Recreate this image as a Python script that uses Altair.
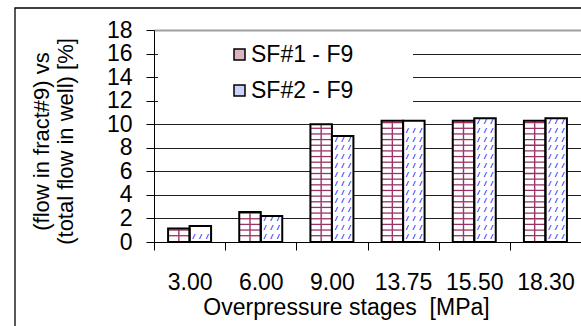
import altair as alt
import numpy as np
import pandas as pd

# ---- data ----
stages = ["3.00", "6.00", "9.00", "13.75", "15.50", "18.30"]
series = ["SF#1 - F9", "SF#2 - F9"]
sf1 = [1.15, 2.55, 10.0, 10.3, 10.3, 10.3]
sf2 = [1.35, 2.2, 9.0, 10.3, 10.5, 10.5]
y_ticks = [0, 2, 4, 6, 8, 10, 12, 14, 16, 18]
x_title = "Overpressure stages \u00a0[MPa]"
y_title = ["(flow in fract#9) vs", "(total flow in well) [%]"]

FONT = "Liberation Sans"
MAROON = "#993366"
BLUE = "#2a2aff"

bars = pd.DataFrame(
    [{"stage": s, "series": series[0], "value": v} for s, v in zip(stages, sf1)]
    + [{"stage": s, "series": series[1], "value": v} for s, v in zip(stages, sf2)]
)

# ---- fill-pattern helpers (brick for SF#1, dashes for SF#2), built from the values ----
row = 0.48
hlines, vlines = [], []
for s, v in zip(stages, sf1):
    bounds = list(np.arange(row, v - 0.05, row))
    for lv in bounds:
        hlines.append({"stage": s, "series": series[0], "value": lv, "value2": lv + 0.11})
    edges = [0.0] + bounds + [v]
    for k in range(len(edges) - 1):
        vlines.append({"stage": s, "series": series[0], "value": edges[k],
                       "value2": edges[k + 1], "par": k % 2})
hlines = pd.DataFrame(hlines)
vlines = pd.DataFrame(vlines)

dashes = []
for s, v in zip(stages, sf2):
    for lv in np.arange(0.45, v - 0.25, 0.75):
        dashes.append({"stage": s, "series": series[1], "value": lv})
dashes = pd.DataFrame(dashes)

x_axis = alt.Axis(title=x_title, labelAngle=0, tickBand="extent",
                  tickSize=8, tickColor="black", domainColor="black",
                  labelPadding=21, labelFontSize=23, labelColor="black",
                  labelFont=FONT, titleFont=FONT, titleFontSize=23,
                  titleFontWeight="normal", titleColor="black",
                  titleX=192, titleY=72, titleBaseline="alphabetic",
                  titleAlign="center", grid=False, labelOverlap=False)
y_axis = alt.Axis(values=y_ticks, title=y_title, tickSize=8,
                  tickColor="black", domainColor="black",
                  labelPadding=14, labelFontSize=23, labelColor="black",
                  labelFont=FONT, titleFont=FONT, titleFontSize=22,
                  titleFontWeight="normal", titleColor="black",
                  titleLineHeight=24, titleAngle=-90,
                  titleX=-106, titleY=111, titleBaseline="alphabetic",
                  titleAlign="center", labelOverlap=False,
                  gridColor={"condition": {"test": "datum.value === 18", "value": "#a0a0a0"}, "value": "#222222"},
                  gridWidth={"condition": {"test": "datum.value === 18", "value": 2}, "value": 1})

x_scale = alt.Scale(paddingInner=0, paddingOuter=0)
xo_scale = alt.Scale(domain=series, paddingInner=0, paddingOuter=0.655)
y_scale = alt.Scale(domain=[0, 18], nice=False)

xs = alt.X("stage:N", sort=stages, scale=x_scale, axis=x_axis)
xos = alt.XOffset("series:N", sort=series, scale=xo_scale)
ys = alt.Y("value:Q", scale=y_scale, axis=y_axis)

base = alt.Chart(bars).mark_bar(fill="white", strokeWidth=0).encode(
    x=xs, xOffset=xos, y=ys)

hl = alt.Chart(hlines).mark_bar(fill=MAROON).encode(
    x=xs, xOffset=xos, y=ys, y2="value2:Q")

vl_even = alt.Chart(vlines).transform_filter("datum.par == 0").mark_bar(
    fill=MAROON, width=1.4, xOffset=-4).encode(
    x=xs, xOffset=xos, y=ys, y2="value2:Q")
vl_odd = alt.Chart(vlines).transform_filter("datum.par == 1").mark_bar(
    fill=MAROON, width=1.4, xOffset=4).encode(
    x=xs, xOffset=xos, y=ys, y2="value2:Q")

dash = alt.Chart(dashes).mark_text(text="/\u00a0\u00a0/\u00a0\u00a0/", fontSize=8,
                                   fontWeight="bold", color=BLUE,
                                   font=FONT, fontStyle="italic").encode(
    x=xs, xOffset=xos, y=ys)

outline = alt.Chart(bars).mark_bar(fillOpacity=0, stroke="black", strokeWidth=2).encode(
    x=xs, xOffset=xos, y=ys)

legend_layer = alt.Chart(bars).mark_square(opacity=0).encode(
    x=xs, xOffset=xos, y=ys,
    fill=alt.Fill("series:N", sort=series,
                  scale=alt.Scale(domain=series, range=["#dcb3c5", "#cdd2f8"]),
                  legend=alt.Legend(orient="none", legendX=4, legendY=5, title=None,
                                    fillColor="white", padding=8, symbolType="square",
                                    symbolSize=121, symbolStrokeColor="black",
                                    symbolStrokeWidth=1.5, symbolOpacity=1,
                                    symbolOffset=62, labelOffset=0, labelFont=FONT,
                                    labelFontSize=23, labelColor="black", labelLimit=400,
                                    rowPadding=12,
                                    labelExpr="datum.label + '" + "\u2800" * 3 + "'")))

frame = alt.Chart(pd.DataFrame({"a": [0]})).mark_rect(
    fillOpacity=0, stroke="black", strokeWidth=1.3).encode(
    x=alt.value(-139), x2=alt.value(520), y=alt.value(-22), y2=alt.value(320))

chart = alt.layer(base, hl, vl_even, vl_odd, dash, outline, legend_layer, frame).properties(
    width=427, height=212,
    autosize=alt.AutoSizeParams(type="none"),
    padding={"left": 154, "top": 30, "right": 0, "bottom": 84},
).configure_view(stroke=None)

chart.save("out.html", embed_options={"renderer": "svg", "actions": False})
